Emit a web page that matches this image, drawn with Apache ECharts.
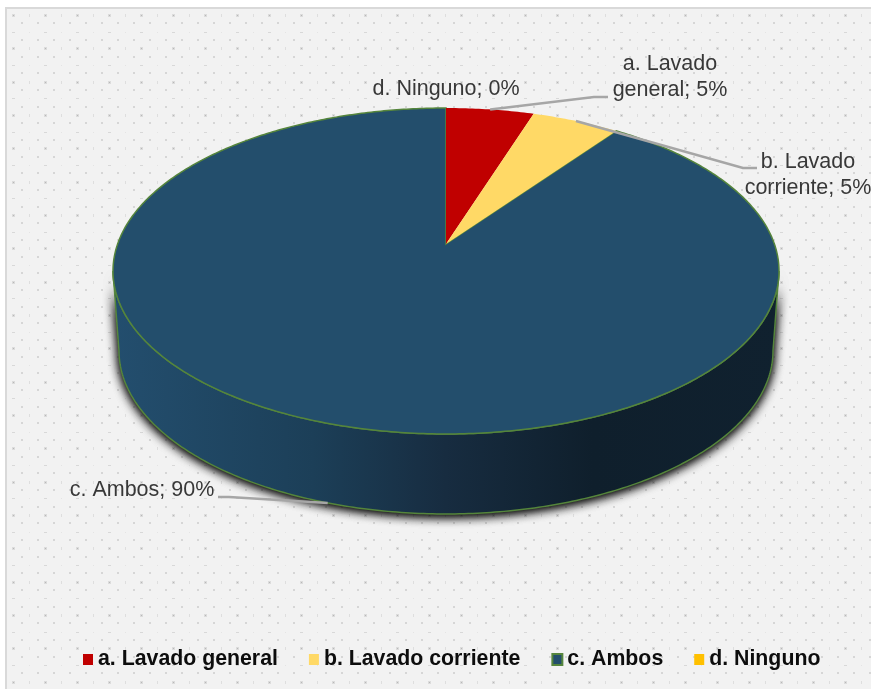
<!DOCTYPE html>
<html>
<head>
<meta charset="utf-8">
<style>html,body{margin:0;padding:0;background:#fff}#chart{width:871px;height:689px}</style>
<script src="https://cdn.jsdelivr.net/npm/echarts@6/dist/echarts.min.js"></script>
</head>
<body>
<div id="chart"></div>
<script>
// Pie values, in per cent, clockwise from twelve o'clock
const categories = ['a. Lavado general', 'b. Lavado corriente', 'c. Ambos', 'd. Ninguno'];
const values = [5, 5, 90, 0];
const labelLines = [['a. Lavado', 'general; 5%'], ['b. Lavado', 'corriente; 5%'], ['c. Ambos; 90%'], ['d. Ninguno; 0%']];
const colors = ['#c00000', '#ffd966', '#234e6c', '#ffc000'];

// Where each callout text sits and where its leader line bends
const calloutText = [[670, 77], [808, 175], [142, 490], [446, 89]];
const calloutElbow = [[[594, 97], [608, 97]], [[743, 168], [757, 168]], [[229, 497], [218, 497]], null];
const calloutOnSide = [false, false, true, false];

// Perspective disc: top rim is a projected circle, the base is a shifted, slightly narrower copy
const CX = 446, APEX_Y = 244, RIM_A = 328.4, RIM_B = 158.5, PERSP = 0.1656;
const DEPTH = 80, BASE_SCALE = 0.982;
const RIM_GREEN = '#55853c';
const total = values.reduce((a, b) => a + b, 0);

function rim(deg) {
  const t = deg * Math.PI / 180, u = Math.sin(t), v = -Math.cos(t), w = 1 - PERSP * v;
  return [CX + RIM_A * u / w, APEX_Y + RIM_B * v / w];
}
function base(deg) {
  const p = rim(deg);
  return [CX + (p[0] - CX) * BASE_SCALE, p[1] + DEPTH];
}
function sweep(a0, a1, fn) {
  const n = Math.max(2, Math.ceil(Math.abs(a1 - a0) * 1.5)), pts = [];
  for (let k = 0; k <= n; k++) pts.push(fn(a0 + (a1 - a0) * k / n));
  return pts;
}
// Angular range of the rim that faces the viewer
const FRONT0 = Math.acos(-PERSP) * 180 / Math.PI, FRONT1 = 360 - FRONT0;

const sideGradient = {
  type: 'linear', x: 113, y: 0, x2: 779, y2: 0, global: true,
  colorStops: [
    { offset: 0, color: '#234e6e' },
    { offset: 0.3, color: '#1c3f58' },
    { offset: 0.5, color: '#172c40' },
    { offset: 0.72, color: '#0f1f2c' },
    { offset: 1, color: '#10212f' }
  ]
};

function renderSlice(params, api) {
  const i = params.seriesIndex, value = api.value(0);
  const start = values.slice(0, i).reduce((a, b) => a + b, 0) / total * 360;
  const end = start + value / total * 360, mid = (start + end) / 2;
  const children = [];

  const s0 = Math.max(start, FRONT0), s1 = Math.min(end, FRONT1);
  if (s1 > s0) {
    const wall = sweep(s0, s1, rim).concat(sweep(s1, s0, base));
    // Two shadow passes build up the dark halo, then the wall goes on top
    for (let pass = 0; pass < 2; pass++) {
      children.push({
        type: 'polygon',
        shape: { points: wall },
        style: { fill: '#10212f', shadowBlur: 11, shadowColor: 'rgba(0,0,0,0.95)', shadowOffsetY: 2 }
      });
    }
    children.push({
      type: 'polygon',
      shape: { points: wall },
      style: { fill: sideGradient, stroke: RIM_GREEN, lineWidth: 1.5 }
    });
  }
  if (value > 0) {
    children.push({
      type: 'polygon',
      shape: { points: [[CX, APEX_Y]].concat(sweep(start, end, rim)) },
      style: i === 2
        ? { fill: colors[i], stroke: RIM_GREEN, lineWidth: 1.5 }
        : { fill: colors[i] }
    });
  }
  if (calloutElbow[i]) {
    const anchor = calloutOnSide[i] ? base(mid) : rim(mid);
    children.push({
      type: 'polyline',
      shape: { points: [anchor].concat(calloutElbow[i]) },
      style: { fill: 'none', stroke: '#a6a6a6', lineWidth: 2.5 }
    });
  }
  children.push({
    type: 'text',
    x: calloutText[i][0], y: calloutText[i][1],
    style: {
      text: labelLines[i].join('\n'), align: 'center', verticalAlign: 'middle',
      font: '21.5px "Liberation Sans", Arial, sans-serif', lineHeight: 26, fill: '#383838'
    }
  });
  return { type: 'group', children };
}

// Dotted panel texture
function dotTile() {
  const c = document.createElement('canvas');
  c.width = 32; c.height = 100;
  const g = c.getContext('2d');
  g.fillStyle = '#f2f2f2';
  g.fillRect(0, 0, 32, 100);
  const dot = (x, y, w, h, col) => { g.fillStyle = col; g.fillRect(x, y, w, h); };
  for (let k = 0; k < 12; k++) {
    const y = Math.round(14 + k * 100 / 12) % 100;
    if (k % 4 === 0) {
      dot(12, y, 3, 3, '#dcdcdc');
      dot(13, y + 1, 1, 1, '#b8b8b8');
      dot(29, y, 1, 3, '#dedede');
    } else if (k % 4 === 2) {
      dot(12, y + 1, 3, 1, '#d8d8d8');
      dot(29, y + 1, 1, 1, '#e4e4e4');
    } else {
      dot(21, y, 2, 2, '#d6d6d6');
      dot(5, y, 2, 2, '#d6d6d6');
    }
  }
  return c;
}

const chart = echarts.init(document.getElementById('chart'));
chart.setOption({
  animation: false,
  backgroundColor: '#ffffff',
  legend: {
    left: 78, top: 644, itemWidth: 10, itemHeight: 11, itemGap: 31, icon: 'rect', selectedMode: false,
    textStyle: { fontFamily: '"Liberation Sans", Arial, sans-serif', fontWeight: 'bold', fontSize: 21.3, color: '#0d0d0d' },
    data: categories.map((name, i) => ({
      name,
      itemStyle: i === 2 ? { color: colors[i], borderColor: RIM_GREEN, borderWidth: 2 } : { color: colors[i], borderWidth: 0 }
    }))
  },
  graphic: [
    { type: 'rect', z: -10, silent: true, shape: { x: 6, y: 8, width: 880, height: 700 },
      style: { fill: { image: dotTile(), repeat: 'repeat' }, stroke: '#d9d9d9', lineWidth: 2 } }
  ],
  series: categories.map((name, i) => ({
    type: 'custom', name, coordinateSystem: 'none', silent: true, clip: false,
    z: i === 2 ? 2 : 3,
    itemStyle: { color: colors[i] },
    renderItem: renderSlice,
    data: [[values[i]]]
  }))
});
</script>
</body>
</html>
